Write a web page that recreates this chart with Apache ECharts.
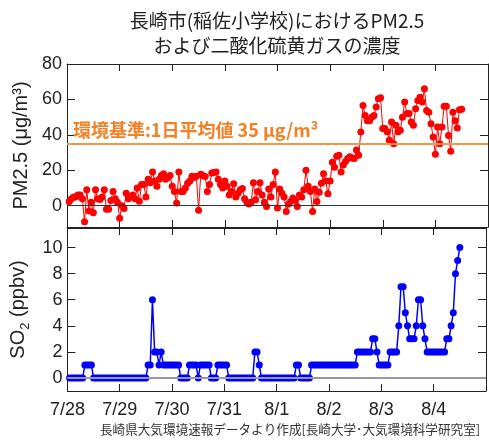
<!DOCTYPE html>
<html><head><meta charset="utf-8">
<script src="https://cdn.jsdelivr.net/npm/echarts@6/dist/echarts.min.js"></script>
<style>html,body{margin:0;padding:0;background:#fff}#c{width:489px;height:443px}</style>
</head><body><div id="c"></div>
<script>
const dateLabels = ['7/28','7/29','7/30','7/31','8/1','8/2','8/3','8/4'];
const pmTicks = [0,20,40,60,80];
const so2Ticks = [0,2,4,6,8,10];
const standardValue = 35;
// hourly values, starting 7/28 01:00
const pm25 = [
 2.4,4,5,5,6,6,4,-9,9,-3,
 2,-4,9,4,3.5,5,9,-2,-2,3,
 8,4,2,-7,0,-1.5,7,4,5,6,
 4,10,2.5,12,12,5,15,13,19,14,
 11,15,17,18,15,16,17,11,8,1.5,
 19,8,8,10,12.7,14,16.7,16,16.7,-2.5,
 17.8,17,16.5,8,12,18.5,18.7,19,15,12,
 10,14,11,6,8,12.4,5,7,9,9.7,
 4,2,1,2,13,3.4,8,13,6,2,
 -0.4,9.5,5,12,19,-1.3,9.5,7,5,-3.2,
 1,2.4,4.3,3,-0.4,6,5,9,20,11,
 8,-3.2,9.5,2.4,7.6,12.7,18,14,6.7,14,
 24.5,21.7,28,28.5,19,23,25,26.7,27.7,27,
 26.7,31.4,28.5,41.6,56.6,51,48,48,50,51,
 55.7,60.4,61,43.6,43.6,41.7,37,47.3,35,45.4,
 41.7,42.6,50,58.5,52,52,47.3,45.4,54.7,59.4,
 61.3,58.5,66,53.8,52.8,46.3,38.8,29,44.4,35,
 44.4,56.2,56.2,39.7,30.8,52.8,48,43.9,54.2,54.5
];
const so2 = [
 0,0,0,0,0,0,0, 1,1,1,1,
 0,0,0,0,0,0,0,0,0,0,0,0,0,0,0,0,0,0,0,0,0,0,0,0,0,
 1,1, 6, 2,2, 1, 2, 1,1,1,1,1,1,1,1,
 0,0,0,0, 1,1,1,1, 0, 1,1,1,1,1, 0,0,0, 1,1,1,1,1,
 0,0,0,0,0,0,0,0,0,0,0,0, 2,2, 1,
 0,0,0,0,0,0,0,0,0,0,0,0,0,0,0,0, 1,1, 0,0,0,0,0,
 1,1,1,1,1,1,1,1,1,1,1,1,1,1,1,1,1,1,1,1,1,
 2,2,2,2,2,2,2, 3,3, 2, 1,1,1,1,1, 2,2,2,2, 4, 7,7, 5, 4, 3,3,3, 4, 6,6, 4, 3,
 2,2,2,2,2,2,2,2,2, 3,3, 4, 5, 8, 9, 10
];

const pmData = pm25.map((v,i)=>[i+1,v]);
const so2Data = so2.map((v,i)=>[i+1,v]);

const numFont = 'Liberation Sans, Arial, sans-serif';
const jpFont = 'Noto Sans CJK JP, sans-serif';
const axisCol = '#222';

function xAxisBase(gi, showLabel, pos){
  return {
    type:'value', gridIndex:gi, min:0, max:192, interval:24, position:pos,
    axisLine:{show:true, onZero:false, lineStyle:{color:axisCol,width:1}},
    axisTick:{show:true, inside:true, length:7, lineStyle:{color:axisCol,width:1}},
    splitLine:{show:false},
    axisLabel:{show:showLabel, fontFamily:numFont, fontSize:18, color:'#222', margin:10,
      formatter:(v)=>{const k=Math.round(v/24); return k<dateLabels.length? dateLabels[k] : '';}}
  };
}
function yAxisBase(gi, min, max, ticks, showLabel, pos, name, nameGap){
  return {
    type:'value', gridIndex:gi, min:min, max:max, position:pos,
    axisLine:{show:true, onZero:false, lineStyle:{color:axisCol,width:1}},
    axisTick:{show:true, inside:true, length:8, customValues:ticks, lineStyle:{color:axisCol,width:1}},
    splitLine:{show:false},
    axisLabel:{show:showLabel, customValues:ticks, fontFamily:numFont, fontSize:18, color:'#222', margin:5},
    name:name||'', nameLocation:'middle', nameGap:nameGap||0, nameRotate:90,
    nameTextStyle:{fontFamily:numFont, fontSize:20, color:'#222',
      rich:{sub:{fontSize:13, verticalAlign:'bottom', padding:[14,0,0,0], fontFamily:numFont, color:'#222'}}}
  };
}

const option = {
  animation:false,
  backgroundColor:'#fff',
  title:[
    {text:'長崎市(稲佐小学校)におけるPM2.5\nおよび二酸化硫黄ガスの濃度', left:272, top:3, textAlign:'center',
     textStyle:{fontFamily:jpFont, fontSize:19, fontWeight:'normal', color:'#222', lineHeight:25}},
    {text:'長崎県大気環境速報データより作成[長崎大学･大気環境科学研究室]', right:4, top:418,
     textStyle:{fontFamily:jpFont, fontSize:12.6, fontWeight:'normal', color:'#333'}}
  ],
  grid:[
    {left:67, right:1, top:64, height:163, show:false},
    {left:67, right:1, top:228, height:163, show:false}
  ],
  xAxis:[
    xAxisBase(0,false,'bottom'), xAxisBase(0,false,'top'),
    xAxisBase(1,true,'bottom'), xAxisBase(1,false,'top')
  ],
  yAxis:[
    yAxisBase(0,-12,80,pmTicks,true,'left','PM2.5 (μg/m³)',31),
    yAxisBase(0,-12,80,pmTicks,false,'right'),
    yAxisBase(1,-1,11.5,so2Ticks,true,'left','SO{sub|2} (ppbv)',22),
    yAxisBase(1,-1,11.5,so2Ticks,false,'right')
  ],
  series:[
    {type:'line', xAxisIndex:0, yAxisIndex:0, data:pmData, showAllSymbol:true,
     symbol:'circle', symbolSize:7, itemStyle:{color:'#ff0000'}, lineStyle:{color:'#ff0000', width:1}, z:3,
     markLine:{silent:true, symbol:'none', animation:false,
       data:[
         {yAxis:0, lineStyle:{color:'#333', width:1, type:'solid'}, label:{show:false}},
         {yAxis:standardValue, lineStyle:{color:'#f79646', width:2, type:'solid'},
          label:{show:true, position:'insideStartTop', distance:[6,5],
            formatter:'環境基準:1日平均値 35 μg/m³', fontFamily:jpFont, fontSize:18, fontWeight:'bold', color:'#f57f22'}}
       ]}},
    {type:'line', xAxisIndex:2, yAxisIndex:2, data:so2Data, showAllSymbol:true,
     symbol:'circle', symbolSize:7, itemStyle:{color:'#0000ff'}, lineStyle:{color:'#0000ff', width:1.5}, z:3,
     markLine:{silent:true, symbol:'none', animation:false,
       data:[{yAxis:0, lineStyle:{color:'#999', width:2, type:'solid'}, label:{show:false}}]}}
  ]
};
const chart = echarts.init(document.getElementById('c'), null, {renderer:'canvas'});
chart.setOption(option);
</script></body></html>
